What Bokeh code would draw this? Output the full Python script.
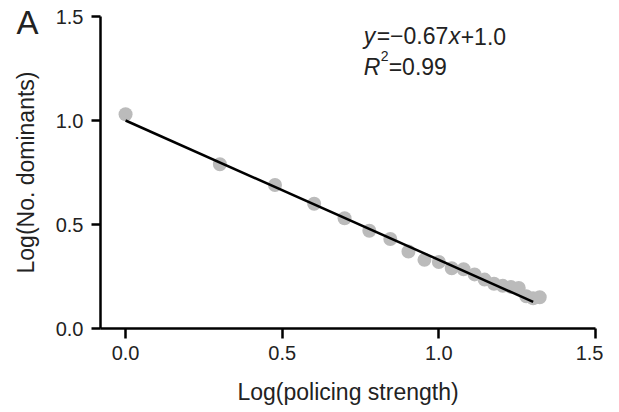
from bokeh.plotting import figure
from bokeh.models import Label, FixedTicker, NumeralTickFormatter, Title
from bokeh.embed import file_html
from bokeh.resources import INLINE
import numpy as np

# data: log10 policing strength vs log10 number of dominants
log_policing = [0.0, 0.301, 0.477, 0.602, 0.699, 0.778, 0.845, 0.903, 0.954, 1.0,
                1.041, 1.079, 1.114, 1.146, 1.176, 1.204, 1.230, 1.255, 1.279, 1.301, 1.322]
log_dominants = [1.03, 0.79, 0.69, 0.60, 0.53, 0.47, 0.43, 0.37, 0.33, 0.32,
                 0.29, 0.285, 0.26, 0.235, 0.215, 0.205, 0.20, 0.195, 0.155, 0.145, 0.15]
fit_slope = -0.67
fit_intercept = 1.0
fit_x_range = [0.0, 1.301]
x_ticks = [0.0, 0.5, 1.0, 1.5]
y_ticks = [0.0, 0.5, 1.0, 1.5]

FONT = "Liberation Sans"

p = figure(frame_width=495, frame_height=312, x_range=(-0.08, 1.5), y_range=(0, 1.5),
           output_backend="svg", toolbar_location=None,
           min_border_left=100, min_border_right=8, min_border_top=16, min_border_bottom=80)
p.outline_line_color = None
p.grid.visible = False
p.background_fill_color = "white"
p.border_fill_color = "white"

p.title = Title(text="A", align="left", vertical_align="top", offset=-84, standoff=-52,
                padding=dict(left=0, right=0, top=20, bottom=0),
                text_font=FONT, text_font_size="33px", text_font_style="normal",
                text_color="#222222")

for ax in (p.xaxis[0], p.yaxis[0]):
    ax.axis_line_width = 2.5
    ax.axis_line_color = "black"
    ax.major_tick_line_width = 2.5
    ax.major_tick_line_color = "black"
    ax.major_tick_in = 0
    ax.minor_tick_line_color = None
    ax.major_label_text_font = FONT
    ax.major_label_text_font_size = "20px"
    ax.major_label_text_color = "#222222"
    ax.axis_label_text_font = FONT
    ax.axis_label_text_font_size = "23px"
    ax.axis_label_text_font_style = "normal"
    ax.axis_label_text_color = "#222222"
    ax.formatter = NumeralTickFormatter(format="0.0")

p.xaxis.ticker = FixedTicker(ticks=x_ticks)
p.yaxis.ticker = FixedTicker(ticks=y_ticks)
p.xaxis.major_tick_out = 10
p.yaxis.major_tick_out = 9
p.xaxis.major_label_standoff = 7
p.yaxis.major_label_standoff = 8
p.xaxis.axis_label = "Log(policing strength)"
p.yaxis.axis_label = "Log(No. dominants)"
p.xaxis.axis_label_standoff = 16
p.yaxis.axis_label_standoff = 14

p.scatter(log_policing, log_dominants, size=14, color="#bbbbbb", line_color=None)

fx = np.array(fit_x_range)
p.line(fx, fit_slope * fx + fit_intercept, line_color="black", line_width=2.5)

fs = 23
def lab(x, y, text, size=fs, style="normal", xo=0, yo=0):
    p.add_layout(Label(x=x, y=y, x_offset=xo, y_offset=yo, text=text,
                       text_font=FONT, text_font_size=f"{size}px", text_font_style=style,
                       text_color="#222222", text_baseline="alphabetic", text_align="left"))

ax0, ay0 = 0.76, 1.404
lab(ax0, ay0, "y", style="italic")
lab(ax0, ay0, "=\u22120.67", xo=13)
lab(ax0, ay0, "x", style="italic", xo=13 + 72)
lab(ax0, ay0, "+1.0", xo=13 + 72 + 12)

ry = 1.255
lab(ax0, ry, "R", style="italic")
lab(ax0, ry, "2", size=14, xo=17, yo=11)
lab(ax0, ry, "=0.99", xo=25)

open("out.html", "w").write(file_html(p, INLINE))
